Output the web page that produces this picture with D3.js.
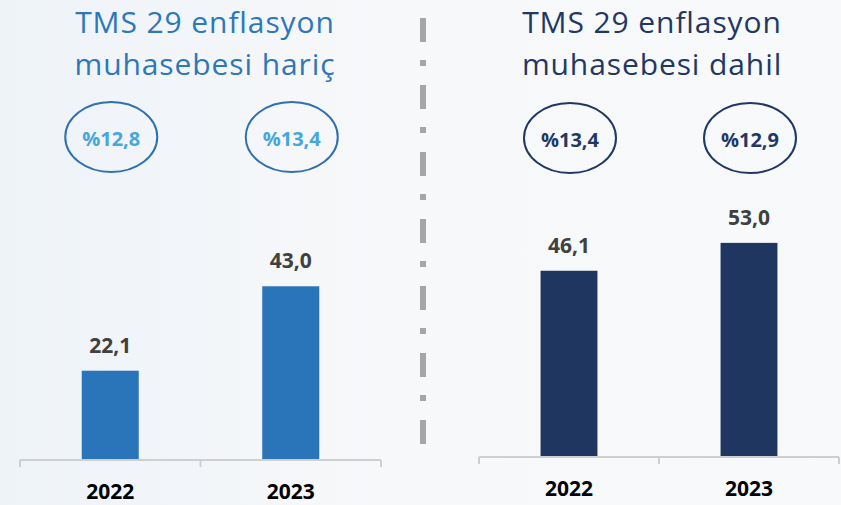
<!DOCTYPE html>
<html>
<head>
<meta charset="utf-8">
<script src="https://cdn.jsdelivr.net/npm/d3@7"></script>
<style>
  body { margin: 0; background: #f7f8fa; }
  svg { display: block; font-family: 'Open Sans', sans-serif; }
</style>
</head>
<body>
<div id="chart"></div>
<script>
// data
const years = ['2022', '2023'];
const excluded = [22.1, 43.0];    // TMS 29 enflasyon muhasebesi hariç
const included = [46.1, 53.0];    // TMS 29 enflasyon muhasebesi dahil
const excludedGrowth = ['%12,8', '%13,4'];
const includedGrowth = ['%13,4', '%12,9'];
const titles = [
  ['TMS 29 enflasyon', 'muhasebesi hariç'],
  ['TMS 29 enflasyon', 'muhasebesi dahil']
];

const width = 841;
const height = 505;
const fmt = v => d3.format('.1f')(v).replace('.', ',');

const svg = d3.select('#chart')
  .append('svg')
  .attr('width', width)
  .attr('height', height);

// soft background
const grad = svg.append('defs').append('linearGradient')
  .attr('id', 'bg')
  .attr('x1', 0).attr('x2', 1).attr('y1', 0).attr('y2', 0);
grad.append('stop').attr('offset', 0).attr('stop-color', '#eef3f8');
grad.append('stop').attr('offset', 0.45).attr('stop-color', '#f7f8fa');
grad.append('stop').attr('offset', 1).attr('stop-color', '#f8f9fa');
svg.append('rect').attr('width', width).attr('height', height).attr('fill', 'url(#bg)');

const panels = [
  {values: excluded, growth: excludedGrowth, title: titles[0], x0: 20, x1: 381, base: 460,
   bar: '#2a75b9', titleColor: '#2e77bb', ring: '#2e70b0', ringText: '#47a6dc', titleX: 205, ringY: 137},
  {values: included, growth: includedGrowth, title: titles[1], x0: 479, x1: 839, base: 457,
   bar: '#1f3760', titleColor: '#1f3864', ring: '#1f3864', ringText: '#1f3864', titleX: 652, ringY: 138}
];

panels.forEach(p => {
  const x = d3.scaleBand()
    .domain(years)
    .range([p.x0, p.x1]);

  const y = d3.scaleLinear()
    .domain([0, 60])
    .range([p.base, p.base - 60 * 4.04]);

  const barW = x.bandwidth() * 0.316;
  const g = svg.append('g');

  // title
  g.append('text')
    .attr('x', p.titleX)
    .attr('text-anchor', 'middle')
    .attr('fill', p.titleColor)
    .style('font-size', '30px')
    .style('letter-spacing', '0.9px')
    .selectAll('tspan')
    .data(p.title)
    .join('tspan')
      .attr('x', p.titleX)
      .attr('y', (d, i) => 33 + i * 42)
      .text(d => d);

  // growth ellipses
  const rings = g.selectAll('.ring')
    .data(p.growth)
    .join('g')
      .attr('class', 'ring')
      .attr('transform', (d, i) => `translate(${x(years[i]) + x.bandwidth() / 2 + 1},${p.ringY})`);
  rings.append('ellipse')
    .attr('rx', 46)
    .attr('ry', 35)
    .attr('fill', 'none')
    .attr('stroke', p.ring)
    .attr('stroke-width', 2);
  rings.append('text')
    .attr('text-anchor', 'middle')
    .attr('y', 9)
    .attr('fill', p.ringText)
    .style('font-size', '20px')
    .style('font-weight', 700)
    .text(d => d);

  // bars
  g.selectAll('.bar')
    .data(p.values)
    .join('rect')
      .attr('class', 'bar')
      .attr('x', (d, i) => x(years[i]) + (x.bandwidth() - barW) / 2)
      .attr('y', d => y(d))
      .attr('width', barW)
      .attr('height', d => y(0) - y(d))
      .attr('fill', p.bar);

  // value labels
  g.selectAll('.val')
    .data(p.values)
    .join('text')
      .attr('class', 'val')
      .attr('x', (d, i) => x(years[i]) + x.bandwidth() / 2)
      .attr('y', d => y(d) - 18)
      .attr('text-anchor', 'middle')
      .attr('fill', '#404040')
      .style('font-size', '21px')
      .style('font-weight', 700)
      .text(d => fmt(d));

  // axis line with ticks at the category edges
  const edges = years.map(c => x(c)).concat([p.x1]);
  g.append('line')
    .attr('x1', p.x0).attr('x2', p.x1)
    .attr('y1', y(0)).attr('y2', y(0))
    .attr('stroke', '#cfcfcf')
    .attr('stroke-width', 2);
  g.selectAll('.tick')
    .data(edges)
    .join('line')
      .attr('class', 'tick')
      .attr('x1', d => d).attr('x2', d => d)
      .attr('y1', y(0)).attr('y2', y(0) + 7)
      .attr('stroke', '#cfcfcf')
      .attr('stroke-width', 2);

  g.selectAll('.cat')
    .data(years)
    .join('text')
      .attr('class', 'cat')
      .attr('x', d => x(d) + x.bandwidth() / 2)
      .attr('y', y(0) + 39)
      .attr('text-anchor', 'middle')
      .attr('fill', '#000')
      .style('font-size', '21px')
      .style('font-weight', 700)
      .text(d => d);
});

// dashed divider
svg.append('line')
  .attr('x1', 423).attr('x2', 423)
  .attr('y1', 18).attr('y2', 444)
  .attr('stroke', '#a6a6a6')
  .attr('stroke-width', 6)
  .attr('stroke-dasharray', '24,18,6,19');
</script>
</body>
</html>
